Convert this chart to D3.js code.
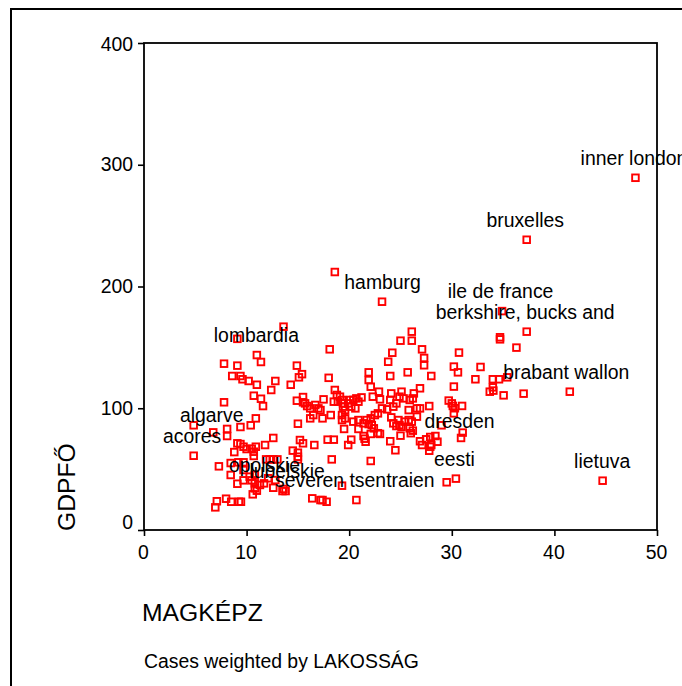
<!DOCTYPE html>
<html>
<head>
<meta charset="utf-8">
<script src="https://d3js.org/d3.v7.min.js"></script>
<style>
body { margin: 0; background: white; overflow: hidden; }
text { font-family: "Liberation Sans", Arial, sans-serif; fill: #000; }
</style>
</head>
<body>
<svg id="chart" width="682" height="686"></svg>
<script>
var magkepz = [
  13.6,9.1,11.0,11.4,7.8,9.1,14.9,15.4,15.1,8.6,9.4,9.6,10.2,11.0,12.8,12.4,14.3,10.7,11.4,11.6,
  7.8,14.9,15.5,15.5,15.9,10.9,15,10.4,9.4,8.1,8.1,6.75,4.84,4.84,7.3,12.6,11.8,9.1,9.4,8.8,
  9.7,10,10.5,10.9,10.7,10.7,11.9,12.25,12.6,13,8.45,9.2,9.7,8.45,9.7,9.1,9.7,10.3,10.8,10.5,
  10.8,11.3,11.7,10.8,11,10.6,12.6,12.1,12.8,13.6,13.8,13.5,6.95,7.1,8,8.5,9.25,9.45,
  15.2,15.5,16.6,14.5,15.0,15.0,15.0,
  23.2,26.1,25,26.1,27.1,24.2,18.1,27.3,27.3,23.8,21.9,21.9,22.1,24,25.7,28,26.9,18,18.6,22.9,
  27.8,29,22.1,18.3,19.3,20.7,16.4,17.2,17.8,17.4,24.5,24,25,26.9,27.1,27.5,27.9,28.4,28.6,27.9,
  27.8,28,17.9,18.5,19.9,20.2,21.4,21.6,21.5,22.1,23,22.8,19.5,20.9,25.1,26,
  18.8,19.1,19.3,18.9,19.4,19.4,19.6,20.1,20.4,20.7,21.2,19.9,20.2,20.6,20.9,19.3,19.3,19.6,20.4,20.9,
  21.4,21.7,22.1,21.9,22.2,22.4,22.8,22.5,23.2,23.7,24,24.1,24.3,24.6,24.9,25.1,25.3,25.8,25.9,26.3,
  26.6,26.9,26.6,26.2,26.1,25.9,26.2,24.8,24.9,25.4,24.6,24.1,24.3,25.8,22.3,23,
  16.2,16.7,17,17.5,17.2,16.5,16.2,17.4,18.2,15.7,18.5,
  30.7,30.2,30.6,32.8,32.3,30.2,34,34.6,35.4,34,33.7,34.05,35.05,37,41.5,44.7,29.5,30.4,29.7,30,
  30.1,30.3,31,30.2,31.06,30.9,
  47.9,37.3,34.9,37.3,34.7,34.7,36.3,18.6
];
var gdpfo = [
  167,157,143.7,138,136.6,135,135,128,125.4,126.5,126.5,123.8,122.4,119.3,122.4,115,119.3,110.3,107.8,101.8,
  104.9,106.2,109.2,104.9,101.8,91.7,87.3,86,84.6,83,77.2,80.2,86,61,52.3,75.6,69.8,71.2,70.6,64,
  68.4,66.5,66.8,68.4,64.3,60.8,58,58,58,58,55,55.6,55.6,45.2,49.3,38,40.8,43.8,45.2,40.8,
  38.3,37,38.3,34.2,32.3,29.3,34.7,42.5,41,33.7,32,32,18.6,23.6,25.7,23.2,23.2,23.2,
  73.9,71.2,69.8,65.2,63.5,60.2,58,
  187.5,162.9,155.5,155.5,148.4,145.6,148.4,141.3,135.3,138.2,129.5,123.2,117.7,126.5,129.5,126.5,116.4,125,115,113.6,
  101.8,86,56.7,58,36.4,24.6,26,24.6,23.2,24.6,65.5,72.9,77.5,72.9,69.8,74.5,76.4,77.2,72.5,68.4,
  65.1,69.8,74.2,74.2,69.8,74.2,77.2,72.5,75,78.9,78.9,79.5,83,83,84.8,79.5,
  110.9,109.5,106.8,105.4,104,101.3,98.5,106.8,106.8,108.1,108.9,104,101.3,99.9,105.4,94.4,90.3,91.7,89,90.3,
  87.6,90.3,91.7,87,86.2,83.5,95.8,94.4,99.9,99.1,106.8,112.2,101.3,104,109.5,113.6,108.1,98.5,106.8,112.2,
  99.9,99.9,93.1,108.1,89,83.5,81.6,90.3,86.2,89,85.4,92.5,87.6,90.3,109.5,107.3,
  99.9,102.7,99.9,107.3,98.5,94.4,91.7,91.7,94.4,104,105.4,
  145.7,134.2,129.5,133.9,123.8,117.8,123.8,123.8,125.4,117.2,113.6,114.5,110.6,112,113.6,40.5,39.2,42.2,106.3,104,
  101.9,100,101.9,95.8,80,75.6,
  289.3,238.4,179.8,162.9,158.3,156.6,149.8,211.9
];

// labelled regions, each sits on one of the points above
var labelNames = ["inner london","bruxelles","ile de france","berkshire, bucks and","hamburg","brabant wallon",
  "lombardia","algarve","acores","dresden","eesti","lietuva","opolskie","lubelskie","severen tsentraien"];
var labelX = [47.9,37.3,34.9,37.3,23.4,41.3,11.1,6.75,4.84,30.9,30.4,44.8,11.9,14.1,20.7];
var labelY = [289.3,238.4,179.8,162.9,187.5,113.6,143.7,78,61,73.5,42.2,40.5,37,32,24.6];

var xTicks = [0,10,20,30,40,50];
var yTicks = [0,100,200,300,400];

var left = 144, right = 657, top_ = 43, bottom = 530;
var fontSize = 19.4;

var svg = d3.select("#chart");

var xScale = d3.scaleLinear().domain([0,50]).range([left,right]);
var yScale = d3.scaleLinear().domain([0,400]).range([bottom,top_]);

// outer frame, open to the right and bottom
svg.append("path")
    .attr("d","M11,686V9H682")
    .attr("fill","none")
    .attr("stroke","black")
    .attr("stroke-width",2);

// plot box
svg.append("rect")
    .attr("x",left)
    .attr("y",top_)
    .attr("width",right-left)
    .attr("height",bottom-top_)
    .attr("fill","white")
    .attr("stroke","black")
    .attr("stroke-width",1.8);

var xAxis = svg.append("g")
    .attr("transform","translate(0,"+bottom+")")
    .call(d3.axisBottom(xScale).tickValues(xTicks).tickSizeOuter(0).tickSize(6).tickPadding(9));
var yAxis = svg.append("g")
    .attr("transform","translate("+left+",0)")
    .call(d3.axisLeft(yScale).tickValues(yTicks).tickSizeOuter(0).tickSize(6).tickPadding(5));

[xAxis,yAxis].forEach(function(axis)
{
    axis.select(".domain").remove();
    axis.selectAll("line").attr("stroke","black").attr("stroke-width",1.6);
    axis.selectAll("text").style("font-family",null).attr("font-size",fontSize).attr("fill","#000");
});
xAxis.selectAll("text").attr("dx",-1);
yAxis.selectAll("text").filter(function(d){return d==400;}).attr("dy","0.37em");
yAxis.selectAll("text").filter(function(d){return d==0;}).attr("dy","-0.1em");

// points
var points = d3.range(magkepz.length);
svg.append("g").selectAll("rect")
    .data(points)
    .enter()
    .append("rect")
    .attr("x",function(i){return xScale(magkepz[i])-3.3;})
    .attr("y",function(i){return yScale(gdpfo[i])-3.3;})
    .attr("width",6.6)
    .attr("height",6.6)
    .attr("fill","none")
    .attr("stroke","#ff0000")
    .attr("stroke-width",1.9);

// point labels, centred above their point
svg.append("g").selectAll("text")
    .data(labelNames)
    .enter()
    .append("text")
    .attr("x",function(d,i){return xScale(labelX[i])-1.5;})
    .attr("y",function(d,i){return yScale(labelY[i])-13;})
    .attr("text-anchor","middle")
    .attr("font-size",fontSize)
    .text(function(d){return d;});

svg.append("text")
    .attr("x",142)
    .attr("y",621)
    .attr("font-size",24.7)
    .text("MAGKÉPZ");

svg.append("text")
    .attr("transform","translate(75,531) rotate(-90)")
    .attr("font-size",24.7)
    .text("GDPFŐ");

svg.append("text")
    .attr("x",144)
    .attr("y",667.5)
    .attr("font-size",fontSize)
    .text("Cases weighted by LAKOSSÁG");
</script>
</body>
</html>
